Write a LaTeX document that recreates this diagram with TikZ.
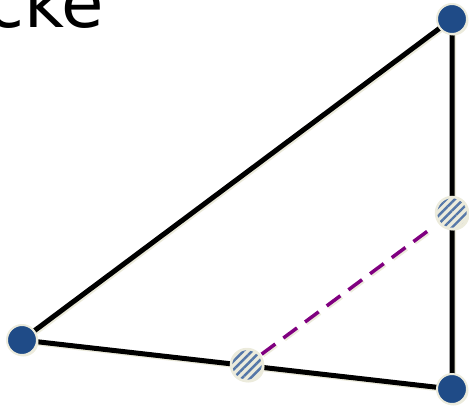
\documentclass[tikz,border=0pt]{standalone}
\usepackage{fontspec}
\setsansfont{DejaVu Sans}
\usetikzlibrary{patterns.meta,shadows,backgrounds}
\definecolor{nodeblue}{HTML}{1F4B87}
\definecolor{cream}{HTML}{ECEBDC}
\definecolor{hatchblue}{HTML}{5577A8}
\definecolor{edgepurple}{HTML}{800080}
\tikzset{
  solidpt/.style={circle, inner sep=0pt, minimum size=30pt, fill=nodeblue, draw=cream, line width=2pt,
    drop shadow={shadow xshift=1.5pt, shadow yshift=-1.5pt, fill=cream, opacity=1}},
  hatchpt/.style={circle, inner sep=0pt, minimum size=32pt, draw=cream, line width=2.5pt,
    preaction={fill=cream},
    pattern={Lines[angle=45,distance=6pt,line width=2.4pt]}, pattern color=hatchblue,
    drop shadow={shadow xshift=1.5pt, shadow yshift=-1.5pt, fill=cream, opacity=1}},
  edgeline/.style={black, line width=5pt},
  edgeshadow/.style={cream, line width=5pt, transform canvas={xshift=1.5pt, yshift=-1.5pt}},
  midline/.style={edgepurple, line width=3.5pt, dash pattern=on 17pt off 10pt},
  label/.style={anchor=base west, inner sep=0pt, font=\sffamily\fontsize{69}{69}\selectfont}
}
\begin{document}
\begin{tikzpicture}[x=1pt, y=-1pt]
\useasboundingbox (0,0) rectangle (469,408);
\clip (0,0) rectangle (469,408);
\node[label] (title) at (-13.8,27) {cke};
\node[solidpt] (A) at (22,340) {};
\node[solidpt] (B) at (452,19) {};
\node[solidpt] (C) at (452,389) {};
\node[hatchpt] (M1) at (452,213) {};
\node[hatchpt] (M2) at (247,365) {};
\begin{pgfonlayer}{background}
\draw[edgeshadow] (A.center) -- (B.center) -- (C.center) -- (A.center);
\draw[edgeline] (A.center) -- (B.center) -- (C.center) -- cycle;
\draw[cream, line width=3.5pt, dash pattern=on 17pt off 10pt, transform canvas={xshift=1.5pt, yshift=-1.5pt}, shorten <=1pt, shorten >=7pt] (M2) -- (M1);
\draw[midline, shorten <=1pt, shorten >=7pt] (M2) -- (M1);
\end{pgfonlayer}
\end{tikzpicture}
\end{document}
